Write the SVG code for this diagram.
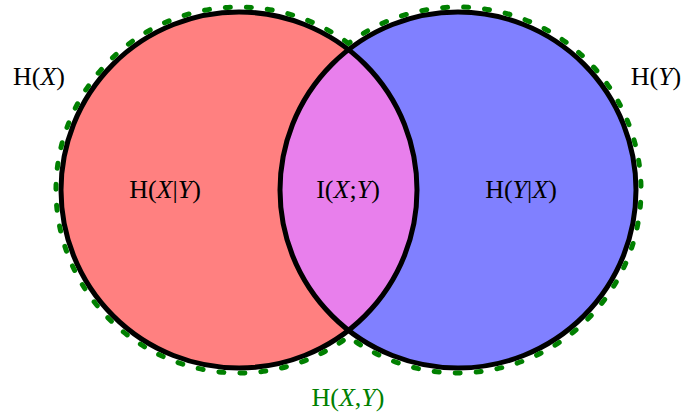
<svg xmlns="http://www.w3.org/2000/svg" width="686" height="414" viewBox="0 0 686 414">
<style>
text{font-family:"Liberation Serif","DejaVu Serif",serif;font-size:26px;fill:#000;text-anchor:middle}
.i{font-style:italic}
.outline{fill:none;stroke:#000;stroke-width:5}
</style>
<defs>
<clipPath id="clipL"><circle cx="239" cy="190" r="178"/></clipPath>
</defs>
<g id="setX"><circle cx="239" cy="190" r="178" fill="#FF8080"/></g>
<g id="setY"><circle cx="458" cy="190" r="178" fill="#8080FF"/></g>
<g id="intersection"><circle cx="458" cy="190" r="178" fill="#E87FEC" clip-path="url(#clipL)"/></g>
<g id="outlines">
<circle class="outline" cx="239" cy="190" r="178"/>
<circle class="outline" cx="458" cy="190" r="178"/>
</g>
<g id="union"><path d="M348.5,43.4 A183,183 0 1 0 348.5,336.6 A183,183 0 1 0 348.5,43.4 Z" fill="none" stroke="#008000" stroke-width="5" stroke-dasharray="5 16" stroke-linecap="round"/></g>
<g id="labels">
<text x="39" y="85">H(<tspan class="i">X</tspan>)</text>
<text x="656" y="85">H(<tspan class="i">Y</tspan>)</text>
<text x="165" y="198">H(<tspan class="i">X</tspan>|<tspan class="i">Y</tspan>)</text>
<text x="348" y="198">I(<tspan class="i">X</tspan>;<tspan class="i">Y</tspan>)</text>
<text x="521" y="198">H(<tspan class="i">Y</tspan>|<tspan class="i">X</tspan>)</text>
<text x="348" y="406" style="fill:#008000">H(<tspan class="i">X</tspan>,<tspan class="i">Y</tspan>)</text>
</g>
</svg>
